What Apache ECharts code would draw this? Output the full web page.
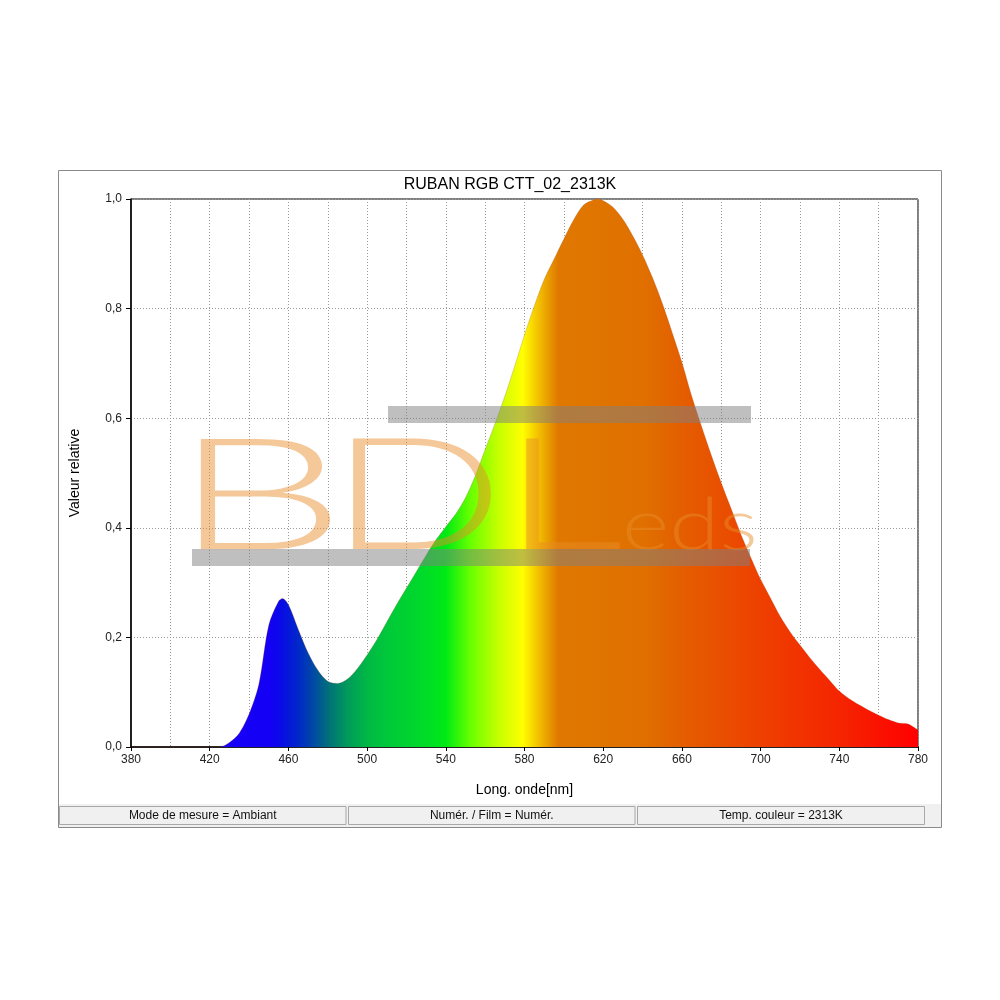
<!DOCTYPE html>
<html>
<head>
<meta charset="utf-8">
<script src="https://cdn.jsdelivr.net/npm/echarts@6/dist/echarts.min.js"></script>
<style>html,body{margin:0;padding:0;background:#fff;}#c{width:1000px;height:1000px;}</style>
</head>
<body>
<div id="c"></div>
<script>
// Wavelength (nm) and relative value
var wavelengths = [380,400,420,425,430,435,440,445,450,455,457,460,465,470,475,480,485,490,495,500,505,510,515,520,525,530,535,540,545,550,555,560,565,570,575,580,585,590,595,600,605,610,615,617,620,625,630,635,640,645,650,655,660,665,670,675,680,685,690,695,700,705,710,715,720,725,730,735,740,745,750,755,760,765,770,775,780];
var relValues   = [0,0,0,0,0.008,0.025,0.06,0.115,0.222,0.266,0.271,0.26,0.215,0.172,0.14,0.12,0.116,0.124,0.143,0.168,0.196,0.228,0.26,0.29,0.32,0.35,0.378,0.402,0.425,0.455,0.495,0.543,0.59,0.64,0.695,0.752,0.805,0.853,0.89,0.927,0.962,0.989,0.998,1.0,0.997,0.985,0.963,0.933,0.898,0.857,0.81,0.757,0.702,0.64,0.585,0.532,0.482,0.435,0.388,0.346,0.306,0.272,0.238,0.21,0.186,0.163,0.142,0.122,0.102,0.088,0.077,0.067,0.058,0.05,0.044,0.042,0.031];
// Gradient stops by wavelength
var stopNm     = [380,450,456,465,472,480,490,500,510,530,540,552,567,579,586,593,597,640,660,700,740,780];
var stopColors = ['#1e00ff','#1400f5','#0a0ae8','#0028c8','#0046a8','#006e7c','#009a5a','#00b845','#00c83a','#00dc28','#00ea14','#64ff00','#c8ff00','#ffff00','#f5c800','#e69600','#e07800','#e07000','#e45e00','#ee4000','#f52500','#ff0000'];
var titleText = 'RUBAN RGB CTT_02_2313K';
var statusTexts = ['Mode de mesure = Ambiant', 'Numér. / Film = Numér.', 'Temp. couleur = 2313K'];

var X0 = 131, X1 = 918, Y0 = 199, Y1 = 747;
var data = wavelengths.map(function(w, i){ return [w, relValues[i]]; });
var stops = stopNm.map(function(n, i){ return {offset: (n - 380) / 400, color: stopColors[i]}; });

var chart = echarts.init(document.getElementById('c'), null, {renderer: 'canvas'});
var font = 'Liberation Sans, Arial, sans-serif';
var graphics = [
  {type:'rect', shape:{x:58.5,y:170.5,width:883,height:657}, style:{fill:'none', stroke:'#8a8a8a', lineWidth:1}, z:-10, silent:true},
  {type:'rect', shape:{x:59,y:804,width:882,height:23}, style:{fill:'#f0f0f0'}, z:-9, silent:true}
];
var boxes = [[59.5,346],[348.5,635],[637.5,924.5]];
boxes.forEach(function(b, i){
  graphics.push({type:'rect', shape:{x:b[0], y:806.5, width:b[1]-b[0], height:18}, style:{fill:'#f0f0f0', stroke:'#a8a8a8', lineWidth:1}, z:5});
  graphics.push({type:'text', x:(b[0]+b[1])/2, y:816, style:{text:statusTexts[i], fill:'#111', font:'12px ' + font, textAlign:'center', textVerticalAlign:'middle'}, z:6});
});
// watermark
var wmColor = 'rgba(232,140,40,0.48)';
var wmFont = '300 156px Lato, sans-serif';
graphics.push({type:'rect', shape:{x:388,y:406,width:363,height:17}, style:{fill:'rgba(128,128,128,0.5)'}, z:50, silent:true});
[['B',172,1.77],['D',329,1.48],['L',501,1.55]].forEach(function(l){
  graphics.push({type:'text', x:l[1], y:577, scaleX:l[2], originX:0, originY:0,
    style:{text:l[0], fill:wmColor, font:wmFont, textAlign:'left', textVerticalAlign:'bottom'}, z:50, silent:true});
});
graphics.push({type:'text', x:622, y:563, scaleX:1.26, originX:0, originY:0, style:{text:'eds', fill:wmColor, font:'300 72px Lato, sans-serif', textAlign:'left', textVerticalAlign:'bottom'}, z:50, silent:true});
graphics.push({type:'rect', shape:{x:192,y:549,width:558,height:17}, style:{fill:'rgba(128,128,128,0.5)'}, z:51, silent:true});

chart.setOption({
  animation: false,
  backgroundColor: '#ffffff',
  title: {text: titleText, left: 505, top: 172, textAlign: 'center', textStyle: {fontFamily: font, fontSize: 16, fontWeight: 'normal', color: '#000'}},
  grid: {left: X0, right: 1000 - X1, top: Y0, bottom: 1000 - Y1, show: true, borderColor: '#000', borderWidth: 1, backgroundColor: '#fff'},
  xAxis: {
    type: 'value', min: 380, max: 780, interval: 40,
    name: 'Long. onde[nm]', nameLocation: 'middle', nameGap: 36,
    nameTextStyle: {fontFamily: font, fontSize: 14, color: '#000'},
    axisLine: {show: true, onZero:false, lineStyle: {color: '#000', width: 1.5}},
    axisTick: {show: true, length: 4, lineStyle: {color: '#000'}},
    axisLabel: {fontFamily: font, fontSize: 12, color: '#222', margin: 7},
    splitLine: {show: true, lineStyle: {color: '#999', type: [1, 2], width: 1}},
    minorTick: {show: false, splitNumber: 2},
    minorSplitLine: {show: true, lineStyle: {color: '#999', type: [1, 2], width: 1}}
  },
  yAxis: {
    type: 'value', min: 0, max: 1, interval: 0.2,
    name: 'Valeur relative', nameLocation: 'middle', nameGap: 49,
    nameTextStyle: {fontFamily: font, fontSize: 14, color: '#000'},
    axisLine: {show: true, lineStyle: {color: '#000', width: 1.5}},
    axisTick: {show: true, length: 5, lineStyle: {color: '#000'}},
    axisLabel: {fontFamily: font, fontSize: 12, color: '#222', margin: 9,
      formatter: function(v){ return v.toFixed(1).replace('.', ','); }},
    splitLine: {show: true, lineStyle: {color: '#999', type: [1, 2], width: 1}}
  },
  series: [{
    type: 'line',
    data: data,
    smooth: 0.3,
    symbol: 'none',
    lineStyle: {width: 0.8, color: 'rgba(160,80,40,0.3)'},
    areaStyle: {
      opacity: 1,
      color: new echarts.graphic.LinearGradient(X0, 0, X1, 0, stops, true)
    },
    z: 3
  }],
  graphic: graphics
});
</script>
</body>
</html>
